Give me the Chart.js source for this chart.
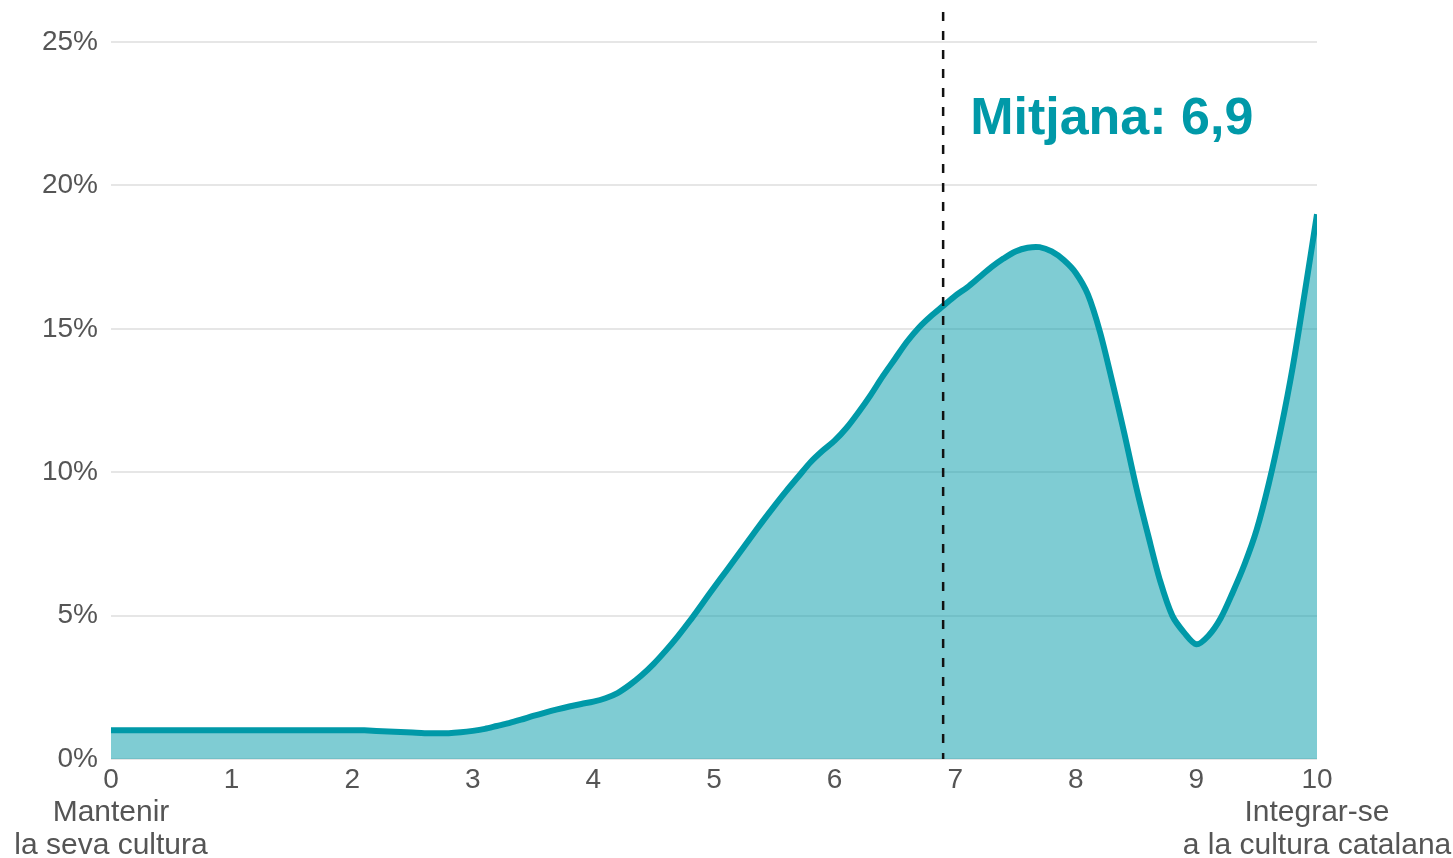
<!DOCTYPE html>
<html>
<head>
<meta charset="utf-8">
<script src="https://cdn.jsdelivr.net/npm/chart.js@4/dist/chart.umd.min.js"></script>
<style>
html,body{margin:0;padding:0;background:#ffffff;}
#wrap{width:1453px;height:858px;position:relative;}
</style>
</head>
<body>
<div id="wrap"><canvas id="c"></canvas></div>
<script>
// ---- data ----
const scorePoints = [
  0.0,0.1,0.2,0.3,0.4,0.5,0.6,0.7,0.8,0.9,
  1.0,1.1,1.2,1.3,1.4,1.5,1.6,1.7,1.8,1.9,
  2.0,2.1,2.2,2.3,2.4,2.5,2.6,2.7,2.8,2.9,
  3.0,3.1,3.2,3.3,3.4,3.5,3.6,3.7,3.8,3.9,
  4.0,4.1,4.2,4.3,4.4,4.5,4.6,4.7,4.8,4.9,
  5.0,5.1,5.2,5.3,5.4,5.5,5.6,5.7,5.8,5.9,
  6.0,6.1,6.2,6.3,6.4,6.5,6.6,6.7,6.8,6.9,
  7.0,7.1,7.2,7.3,7.4,7.5,7.6,7.7,7.8,7.9,
  8.0,8.1,8.2,8.3,8.4,8.5,8.6,8.7,8.8,8.9,
  9.0,9.1,9.2,9.3,9.4,9.5,9.6,9.7,9.8,9.9,
  10.0
];
const sharePercent = [
  1.0,1.0,1.0,1.0,1.0,1.0,1.0,1.0,1.0,1.0,
  1.0,1.0,1.0,1.0,1.0,1.0,1.0,1.0,1.0,1.0,
  1.0,1.0,0.98,0.96,0.94,0.92,0.9,0.9,0.9,0.93,
  0.98,1.05,1.15,1.25,1.37,1.5,1.62,1.73,1.83,1.92,
  2.0,2.12,2.3,2.58,2.92,3.32,3.78,4.28,4.82,5.4,
  5.98,6.55,7.12,7.7,8.27,8.82,9.35,9.85,10.35,10.75,
  11.1,11.55,12.1,12.7,13.35,13.95,14.55,15.05,15.45,15.8,
  16.15,16.45,16.8,17.15,17.45,17.7,17.83,17.85,17.7,17.4,
  16.95,16.2,14.9,13.2,11.4,9.5,7.8,6.2,5.0,4.4,
  4.0,4.3,4.9,5.8,6.8,8.0,9.6,11.5,13.7,16.3,
  19.0
];
const yTickValues = [0, 5, 10, 15, 20, 25];
const xTickValues = [0, 1, 2, 3, 4, 5, 6, 7, 8, 9, 10];
const meanValue = 6.9;
const meanLabel = 'Mitjana: 6,9';
const meanLabelLevel = 21.8;
const leftEndLabel = ['Mantenir', 'la seva cultura'];
const rightEndLabel = ['Integrar-se', 'a la cultura catalana'];

// ---- styles ----
const FONT = "'Liberation Sans', Arial, Helvetica, sans-serif";
const TEAL = '#0099a8';
const TEXT = '#555555';

const points = scorePoints.map((x, i) => ({ x: x, y: sharePercent[i] }));

const overlayPlugin = {
  id: 'overlay',
  afterDatasetsDraw(chart) {
    const ctx = chart.ctx;
    const xs = chart.scales.x, ys = chart.scales.y;
    const area = chart.chartArea;
    const mx = xs.getPixelForValue(meanValue);
    ctx.save();
    ctx.strokeStyle = '#111111';
    ctx.lineWidth = 2.5;
    ctx.setLineDash([9, 10]);
    ctx.beginPath();
    ctx.moveTo(mx, area.top);
    ctx.lineTo(mx, area.bottom);
    ctx.stroke();
    ctx.setLineDash([]);
    ctx.fillStyle = TEAL;
    ctx.font = 'bold 52px ' + FONT;
    ctx.textAlign = 'left';
    ctx.textBaseline = 'alphabetic';
    ctx.fillText(meanLabel, mx + 27, ys.getPixelForValue(meanLabelLevel));
    ctx.restore();
  },
  afterDraw(chart) {
    const ctx = chart.ctx;
    const xs = chart.scales.x;
    ctx.save();
    ctx.fillStyle = TEXT;
    ctx.font = '30px ' + FONT;
    ctx.textAlign = 'center';
    ctx.textBaseline = 'middle';
    const y1 = xs.top + 54, y2 = xs.top + 87;
    const lx = xs.getPixelForValue(xTickValues[0]);
    const rx = xs.getPixelForValue(xTickValues[xTickValues.length - 1]);
    ctx.fillText(leftEndLabel[0], lx, y1);
    ctx.fillText(leftEndLabel[1], lx, y2);
    ctx.fillText(rightEndLabel[0], rx, y1);
    ctx.fillText(rightEndLabel[1], rx, y2);
    ctx.restore();
  }
};

new Chart(document.getElementById('c'), {
  type: 'line',
  data: {
    datasets: [{
      data: points,
      borderColor: TEAL,
      borderWidth: 6,
      backgroundColor: 'rgba(0,153,168,0.5)',
      fill: 'origin',
      pointRadius: 0,
      tension: 0.3
    }]
  },
  options: {
    responsive: true,
    maintainAspectRatio: false,
    animation: false,
    layout: { padding: { left: 0, right: 136, top: 12, bottom: 0 } },
    plugins: { legend: { display: false }, tooltip: { enabled: false } },
    scales: {
      x: {
        type: 'linear',
        min: 0,
        max: 10,
        afterFit(s) { s.height = 99; s.paddingLeft = 0; s.paddingRight = 0; },
        afterBuildTicks(s) { s.ticks = xTickValues.map(v => ({ value: v })); },
        grid: { display: false, drawTicks: false },
        border: { display: false },
        ticks: {
          autoSkip: false, maxRotation: 0, padding: 4,
          color: TEXT, font: { family: FONT, size: 28 },
          callback: v => String(v)
        }
      },
      y: {
        min: 0,
        max: 26.05,
        afterFit(s) { s.width = 111; s.paddingTop = 0; s.paddingBottom = 0; },
        afterBuildTicks(s) { s.ticks = yTickValues.map(v => ({ value: v })); },
        grid: { color: '#e6e6e6', lineWidth: 2, drawTicks: false },
        border: { display: false },
        ticks: {
          padding: 13,
          color: TEXT, font: { family: FONT, size: 28 },
          callback: v => v + '%'
        }
      }
    }
  },
  plugins: [overlayPlugin]
});
</script>
</body>
</html>
